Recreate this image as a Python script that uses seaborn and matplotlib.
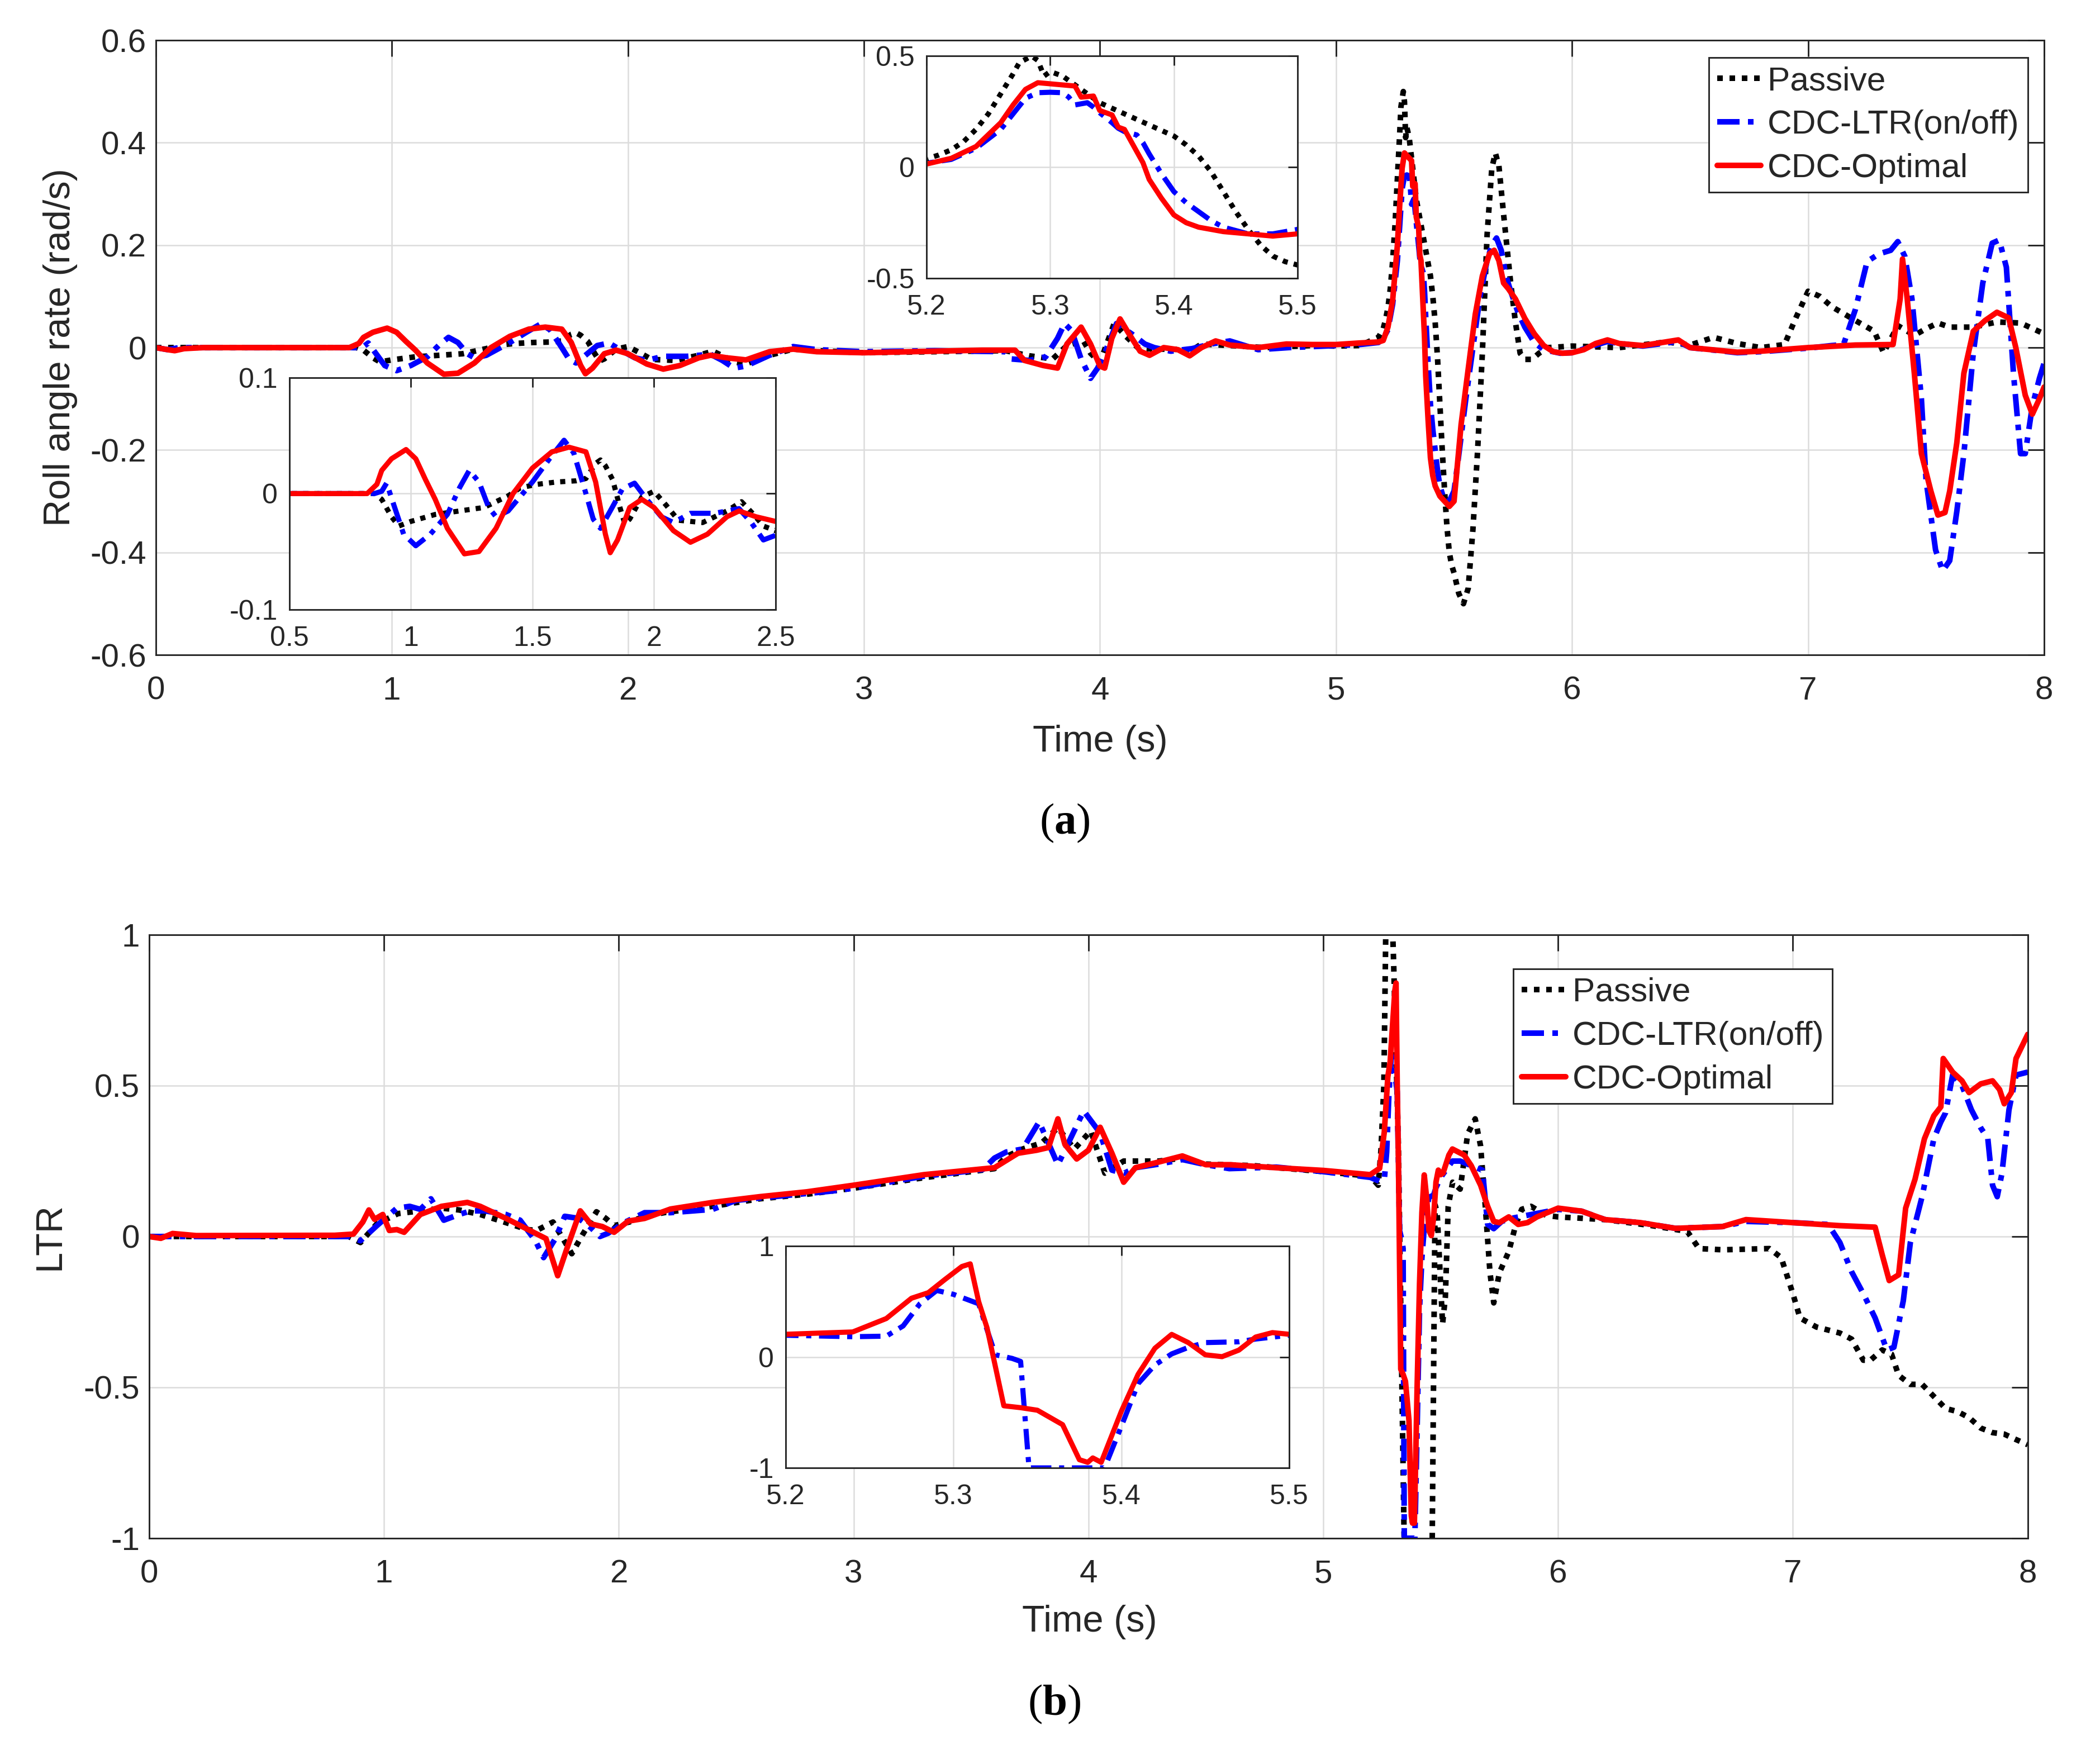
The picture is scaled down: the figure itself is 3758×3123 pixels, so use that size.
import numpy as np
import pandas as pd
import seaborn as sns
import matplotlib
matplotlib.use("Agg")
import matplotlib.pyplot as plt
from matplotlib.ticker import FuncFormatter

# Roll angle rate (rad/s), columns: time (s), value
roll_passive = np.array([
    [0, 0], [0.5, 0], [0.85, 0], [0.88, -0.005], [0.92, -0.02], [0.95, -0.028],
    [1.0, -0.024], [1.1, -0.018], [1.2, -0.015], [1.3, -0.012], [1.4, -0.002],
    [1.45, 0.005], [1.52, 0.008], [1.6, 0.01], [1.68, 0.011], [1.72, 0.013],
    [1.76, 0.026], [1.78, 0.029], [1.8, 0.024], [1.83, 0.012], [1.86, -0.012],
    [1.88, -0.026], [1.9, -0.022], [1.95, -0.003], [2.0, 0.002], [2.05, -0.01],
    [2.1, -0.023], [2.2, -0.025], [2.3, -0.015], [2.36, -0.007], [2.41, -0.018],
    [2.45, -0.028], [2.5, -0.032], [2.6, -0.015], [2.7, -0.003], [2.8, -0.006],
    [3.0, -0.01], [3.3, -0.008], [3.6, -0.006], [3.7, -0.016], [3.8, -0.022],
    [3.86, 0.004], [3.93, 0.013], [3.96, -0.011], [4.0, -0.029], [4.06, 0.047],
    [4.11, 0.022], [4.16, 0.0], [4.22, -0.003], [4.3, -0.003], [4.39, -0.005],
    [4.43, 0.007], [4.55, 0.004], [4.7, 0.0], [4.9, 0.004], [5.0, 0.003],
    [5.1, 0.004], [5.18, 0.02],
    [5.2, 0.037], [5.21, 0.055], [5.22, 0.078], [5.23, 0.115], [5.24, 0.17],
    [5.25, 0.24], [5.26, 0.33], [5.27, 0.42], [5.275, 0.47], [5.285, 0.5],
    [5.29, 0.48], [5.295, 0.41], [5.3, 0.43], [5.31, 0.41], [5.32, 0.37],
    [5.33, 0.33], [5.34, 0.29], [5.36, 0.24], [5.38, 0.19], [5.4, 0.14],
    [5.41, 0.1], [5.42, 0.05], [5.43, -0.02], [5.44, -0.11], [5.45, -0.2],
    [5.46, -0.28], [5.47, -0.35], [5.48, -0.4], [5.49, -0.425], [5.5, -0.44],
    [5.52, -0.48], [5.54, -0.5], [5.56, -0.47], [5.58, -0.355], [5.6, -0.2],
    [5.62, -0.01], [5.64, 0.22], [5.66, 0.35], [5.675, 0.38], [5.69, 0.355],
    [5.71, 0.26], [5.73, 0.17], [5.74, 0.126], [5.76, 0.05], [5.78, -0.011],
    [5.8, -0.023], [5.83, -0.023], [5.86, -0.011], [5.9, 0.0], [6.0, 0.003],
    [6.2, 0.0], [6.4, 0.011], [6.5, 0.005], [6.6, 0.02], [6.7, 0.008],
    [6.8, 0.0], [6.9, 0.006], [6.95, 0.06], [7.0, 0.11], [7.05, 0.1],
    [7.1, 0.08], [7.2, 0.053], [7.28, 0.032], [7.32, -0.01], [7.38, 0.043],
    [7.45, 0.024], [7.5, 0.037], [7.55, 0.048], [7.6, 0.04], [7.7, 0.04],
    [7.8, 0.05], [7.9, 0.048], [8.0, 0.027],
])

roll_ltr = np.array([
    [0, 0], [0.05, -0.004], [0.1, 0.0], [0.85, 0], [0.88, 0.002], [0.9, 0.009],
    [0.93, -0.01], [0.97, -0.035], [1.02, -0.045], [1.08, -0.035], [1.15, -0.018],
    [1.2, 0.005], [1.24, 0.02], [1.28, 0.01], [1.32, -0.012], [1.35, -0.02],
    [1.4, -0.015], [1.5, 0.01], [1.57, 0.03], [1.63, 0.046], [1.67, 0.035],
    [1.72, 0.0], [1.75, -0.022], [1.78, -0.03], [1.82, -0.015], [1.87, 0.004],
    [1.92, 0.009], [1.97, -0.005], [2.03, -0.02], [2.08, -0.025], [2.15, -0.017],
    [2.25, -0.017], [2.35, -0.013], [2.4, -0.025], [2.45, -0.04], [2.5, -0.036],
    [2.6, -0.015], [2.7, 0.002], [2.8, -0.004], [3.0, -0.008], [3.3, -0.006],
    [3.6, -0.008], [3.62, -0.022], [3.7, -0.025], [3.77, -0.018], [3.82, 0.018],
    [3.85, 0.047], [3.88, 0.033], [3.92, -0.022], [3.96, -0.06], [3.99, -0.04],
    [4.02, -0.011], [4.07, 0.047], [4.14, 0.025], [4.19, 0.007], [4.23, 0.0],
    [4.3, -0.007], [4.39, -0.002], [4.47, 0.007], [4.55, 0.013], [4.67, -0.004],
    [4.8, 0.0], [5.0, 0.004], [5.1, 0.006], [5.18, 0.01],
    [5.2, 0.018], [5.22, 0.035], [5.24, 0.085], [5.26, 0.17], [5.27, 0.24],
    [5.28, 0.31], [5.29, 0.335], [5.3, 0.337], [5.31, 0.335], [5.315, 0.315],
    [5.32, 0.28], [5.325, 0.285], [5.33, 0.29], [5.335, 0.27], [5.34, 0.245],
    [5.35, 0.2], [5.355, 0.175], [5.36, 0.16], [5.37, 0.145], [5.375, 0.11],
    [5.38, 0.06], [5.39, -0.03], [5.4, -0.11], [5.41, -0.16], [5.42, -0.2],
    [5.43, -0.24], [5.44, -0.27], [5.46, -0.3], [5.48, -0.3], [5.5, -0.28],
    [5.52, -0.21], [5.55, -0.1], [5.58, 0.0], [5.61, 0.1], [5.64, 0.17],
    [5.66, 0.2], [5.68, 0.214], [5.7, 0.19], [5.72, 0.14], [5.74, 0.11],
    [5.77, 0.07], [5.8, 0.04], [5.84, 0.01], [5.88, -0.004], [5.95, -0.011],
    [6.0, -0.01], [6.1, 0.005], [6.15, 0.012], [6.2, 0.008], [6.3, 0.003],
    [6.45, 0.012], [6.5, 0.0], [6.7, -0.01], [6.8, -0.008], [7.0, -0.001],
    [7.1, 0.004], [7.15, 0.006], [7.2, 0.074], [7.25, 0.168], [7.3, 0.183],
    [7.35, 0.19], [7.38, 0.207], [7.41, 0.178], [7.44, 0.095], [7.48, -0.1],
    [7.5, -0.26], [7.54, -0.395], [7.57, -0.436], [7.6, -0.416], [7.63, -0.32],
    [7.66, -0.207], [7.7, -0.01], [7.74, 0.126], [7.78, 0.204], [7.81, 0.21],
    [7.84, 0.157], [7.87, -0.05], [7.9, -0.207], [7.92, -0.207], [7.95, -0.114],
    [7.98, -0.06], [8.0, -0.03],
])

roll_opt = np.array([
    [0, 0], [0.05, -0.004], [0.08, -0.006], [0.12, -0.002], [0.2, 0.0],
    [0.82, 0.0], [0.86, 0.008], [0.88, 0.02], [0.92, 0.03], [0.98, 0.038],
    [1.02, 0.03], [1.06, 0.012], [1.1, -0.005], [1.15, -0.03], [1.22, -0.052],
    [1.28, -0.05], [1.35, -0.03], [1.42, 0.0], [1.5, 0.022], [1.58, 0.036],
    [1.65, 0.04], [1.72, 0.036], [1.76, 0.01], [1.8, -0.035], [1.82, -0.051],
    [1.85, -0.04], [1.9, -0.012], [1.95, -0.005], [2.0, -0.012], [2.08, -0.032],
    [2.15, -0.042], [2.22, -0.035], [2.3, -0.02], [2.35, -0.015], [2.42, -0.02],
    [2.5, -0.024], [2.6, -0.008], [2.7, -0.003], [2.8, -0.008], [3.0, -0.01],
    [3.5, -0.005], [3.64, -0.005], [3.68, -0.025], [3.76, -0.035], [3.82, -0.04],
    [3.86, 0.007], [3.92, 0.04], [3.96, 0.007], [4.0, -0.036], [4.02, -0.04],
    [4.05, 0.018], [4.085, 0.056], [4.12, 0.029], [4.17, -0.007], [4.21, -0.015],
    [4.27, 0.0], [4.33, -0.004], [4.38, -0.016], [4.43, 0.0], [4.49, 0.013],
    [4.55, 0.005], [4.67, 0.0], [4.79, 0.007], [4.9, 0.006], [5.0, 0.006],
    [5.1, 0.009], [5.18, 0.011],
    [5.2, 0.014], [5.22, 0.04], [5.24, 0.093], [5.26, 0.2], [5.27, 0.28],
    [5.28, 0.35], [5.29, 0.38], [5.3, 0.375], [5.31, 0.37], [5.32, 0.365],
    [5.325, 0.315], [5.335, 0.32], [5.34, 0.255], [5.35, 0.235], [5.355, 0.18],
    [5.36, 0.17], [5.365, 0.12], [5.37, 0.07], [5.375, 0.02], [5.38, -0.055],
    [5.39, -0.14], [5.4, -0.215], [5.41, -0.25], [5.42, -0.27], [5.44, -0.29],
    [5.46, -0.3], [5.48, -0.31], [5.5, -0.3],
    [5.52, -0.2], [5.53, -0.15], [5.56, -0.042], [5.59, 0.065], [5.62, 0.14],
    [5.65, 0.183], [5.67, 0.19], [5.69, 0.17], [5.71, 0.126], [5.73, 0.115],
    [5.76, 0.095], [5.8, 0.057], [5.84, 0.027], [5.88, 0.004], [5.92, -0.008],
    [5.96, -0.011], [6.0, -0.01], [6.05, -0.004], [6.1, 0.008], [6.15, 0.015],
    [6.2, 0.008], [6.3, 0.004], [6.45, 0.015], [6.5, 0.0], [6.7, -0.009],
    [6.8, -0.007], [7.0, 0.0], [7.2, 0.005], [7.36, 0.006], [7.39, 0.095],
    [7.4, 0.173], [7.42, 0.095], [7.45, -0.05], [7.48, -0.207], [7.52, -0.28],
    [7.55, -0.327], [7.58, -0.322], [7.6, -0.28], [7.63, -0.186], [7.66, -0.05],
    [7.7, 0.032], [7.75, 0.053], [7.8, 0.069], [7.85, 0.058], [7.88, 0.0],
    [7.92, -0.093], [7.95, -0.13], [7.98, -0.1], [8.0, -0.077],
])

# Load transfer ratio, columns: time (s), value
ltr_passive = np.array([
    [0, 0], [0.85, 0.0], [0.9, -0.02], [0.97, 0.042], [1.06, 0.076],
    [1.155, 0.085], [1.245, 0.094], [1.32, 0.088], [1.41, 0.073], [1.5, 0.051],
    [1.61, 0.023], [1.65, 0.02], [1.72, 0.048], [1.76, -0.004], [1.8, -0.057],
    [1.845, 0.005], [1.905, 0.082], [1.945, 0.06], [1.98, 0.036], [2.045, 0.048],
    [2.11, 0.067], [2.2, 0.08], [2.4, 0.1], [2.6, 0.125], [2.8, 0.14],
    [3.0, 0.16], [3.3, 0.195], [3.6, 0.225], [3.65, 0.265], [3.72, 0.29],
    [3.8, 0.31], [3.87, 0.36], [3.94, 0.29], [4.01, 0.35], [4.07, 0.21],
    [4.15, 0.25], [4.3, 0.25], [4.4, 0.26], [4.5, 0.24], [4.7, 0.235],
    [5.0, 0.215], [5.2, 0.2], [5.234, 0.17], [5.246, 0.29], [5.258, 0.5],
    [5.266, 1.0], [5.28, 1.4], [5.3, 0.9], [5.32, 0.3], [5.335, -0.5],
    [5.35, -1.3], [5.44, -1.3], [5.464, -1.0], [5.476, 0.105], [5.485, 0.08],
    [5.508, -0.29], [5.52, -0.2], [5.532, 0.1], [5.551, 0.18], [5.583, 0.157],
    [5.615, 0.34], [5.647, 0.39], [5.67, 0.3], [5.69, 0.1], [5.71, -0.12],
    [5.726, -0.22], [5.75, -0.12], [5.79, -0.05], [5.82, 0.04], [5.845, 0.09],
    [5.885, 0.1], [5.95, 0.07], [6.0, 0.065], [6.2, 0.056], [6.4, 0.036],
    [6.55, 0.017], [6.6, -0.04], [6.7, -0.044], [6.9, -0.04], [6.95, -0.07],
    [7.0, -0.19], [7.03, -0.27], [7.1, -0.3], [7.2, -0.32], [7.25, -0.34],
    [7.3, -0.41], [7.33, -0.41], [7.38, -0.376], [7.42, -0.39], [7.45, -0.46],
    [7.5, -0.49], [7.55, -0.49], [7.6, -0.53], [7.65, -0.57], [7.7, -0.58],
    [7.75, -0.6], [7.8, -0.635], [7.85, -0.65], [7.9, -0.655], [7.95, -0.673],
    [8.0, -0.69],
])

ltr_ltr = np.array([
    [0, 0], [0.85, 0], [0.9, -0.014], [0.97, 0.036], [1.055, 0.094], [1.11, 0.1],
    [1.155, 0.09], [1.2, 0.125], [1.255, 0.054], [1.32, 0.073], [1.37, 0.085],
    [1.43, 0.085], [1.52, 0.073], [1.58, 0.054], [1.645, -0.014], [1.68, -0.07],
    [1.73, -0.007], [1.77, 0.067], [1.83, 0.06], [1.88, 0.03], [1.92, 0.0],
    [1.955, 0.011], [2.02, 0.045], [2.11, 0.079], [2.22, 0.079], [2.4, 0.09],
    [2.5, 0.12], [2.7, 0.135], [2.9, 0.15], [3.0, 0.16], [3.3, 0.2],
    [3.55, 0.222], [3.6, 0.26], [3.65, 0.28], [3.72, 0.29], [3.79, 0.38],
    [3.87, 0.238], [3.98, 0.416], [4.05, 0.343], [4.1, 0.22], [4.15, 0.209],
    [4.2, 0.228], [4.3, 0.24], [4.4, 0.255], [4.5, 0.238], [4.6, 0.225],
    [4.8, 0.23], [5.0, 0.215],
    [5.2, 0.196], [5.24, 0.183], [5.26, 0.188], [5.27, 0.28], [5.28, 0.48],
    [5.29, 0.6], [5.3, 0.565], [5.315, 0.48], [5.32, 0.246], [5.325, 0.02],
    [5.335, -0.013], [5.34, -0.04], [5.345, -1.0], [5.39, -1.0], [5.4, -0.625],
    [5.41, -0.24], [5.42, -0.072], [5.43, 0.028], [5.44, 0.087], [5.45, 0.13],
    [5.47, 0.137], [5.48, 0.162], [5.5, 0.196],
    [5.55, 0.25], [5.583, 0.25], [5.63, 0.235], [5.678, 0.22], [5.7, 0.04],
    [5.726, 0.026], [5.76, 0.05], [5.8, 0.06], [5.9, 0.075], [6.0, 0.09],
    [6.1, 0.084], [6.2, 0.056], [6.35, 0.046], [6.5, 0.027], [6.7, 0.033],
    [6.8, 0.05], [7.0, 0.046], [7.15, 0.04], [7.2, -0.02], [7.25, -0.117],
    [7.3, -0.19], [7.35, -0.27], [7.4, -0.376], [7.43, -0.367], [7.47, -0.213],
    [7.5, -0.02], [7.55, 0.132], [7.6, 0.324], [7.63, 0.38], [7.65, 0.41],
    [7.68, 0.535], [7.72, 0.5], [7.76, 0.42], [7.8, 0.36], [7.83, 0.324],
    [7.85, 0.17], [7.87, 0.132], [7.89, 0.209], [7.92, 0.42], [7.95, 0.535],
    [8.0, 0.545],
])

ltr_opt = np.array([
    [0, 0], [0.05, -0.006], [0.1, 0.01], [0.2, 0.003], [0.79, 0.004],
    [0.87, 0.008], [0.91, 0.048], [0.936, 0.088], [0.96, 0.057], [0.995, 0.073],
    [1.023, 0.02], [1.055, 0.023], [1.086, 0.014], [1.155, 0.073], [1.245, 0.1],
    [1.355, 0.113], [1.41, 0.1], [1.52, 0.06], [1.69, -0.007], [1.74, -0.13],
    [1.78, -0.038], [1.836, 0.085], [1.88, 0.042], [1.93, 0.033], [1.98, 0.014],
    [2.04, 0.051], [2.11, 0.06], [2.22, 0.091], [2.4, 0.113], [2.6, 0.132],
    [2.8, 0.148], [3.0, 0.17], [3.3, 0.205], [3.6, 0.228], [3.7, 0.276],
    [3.78, 0.286], [3.83, 0.295], [3.87, 0.39], [3.9, 0.305], [3.95, 0.257],
    [4.0, 0.286], [4.05, 0.362], [4.1, 0.276], [4.15, 0.18], [4.2, 0.228],
    [4.3, 0.247], [4.4, 0.267], [4.5, 0.238], [4.6, 0.238], [4.8, 0.228],
    [5.0, 0.219],
    [5.2, 0.205], [5.24, 0.226], [5.26, 0.347], [5.275, 0.53], [5.285, 0.58],
    [5.295, 0.7], [5.305, 0.816], [5.31, 0.84], [5.315, 0.5], [5.32, 0.263],
    [5.33, -0.44], [5.34, -0.457], [5.35, -0.48], [5.365, -0.61], [5.375, -0.926],
    [5.38, -0.95], [5.383, -0.91], [5.388, -0.95], [5.4, -0.49], [5.41, -0.156],
    [5.42, 0.079], [5.43, 0.204], [5.44, 0.129], [5.45, 0.02], [5.46, 0.003],
    [5.47, 0.062], [5.48, 0.18], [5.49, 0.22], [5.5, 0.205],
    [5.51, 0.21], [5.535, 0.27], [5.55, 0.29], [5.6, 0.27], [5.63, 0.235],
    [5.67, 0.17], [5.7, 0.1], [5.726, 0.05], [5.75, 0.046], [5.79, 0.065],
    [5.83, 0.04], [5.87, 0.046], [5.91, 0.065], [6.0, 0.094], [6.1, 0.084],
    [6.2, 0.056], [6.35, 0.046], [6.5, 0.027], [6.7, 0.033], [6.8, 0.056],
    [7.0, 0.046], [7.2, 0.036], [7.35, 0.031], [7.38, -0.06], [7.41, -0.146],
    [7.45, -0.127], [7.48, 0.094], [7.52, 0.19], [7.56, 0.324], [7.6, 0.4],
    [7.63, 0.43], [7.64, 0.59], [7.68, 0.545], [7.72, 0.516], [7.75, 0.477],
    [7.8, 0.506], [7.85, 0.516], [7.88, 0.487], [7.9, 0.44], [7.93, 0.477],
    [7.95, 0.59], [8.0, 0.67],
])

series_names = ["Passive", "CDC-LTR(on/off)", "CDC-Optimal"]
series_colors = ["#000000", "#0000ff", "#ff0000"]
series_styles = [(0, (1, 1.2)), (0, (4, 1.5, 1, 1.5)), "-"]

time_ticks = [0, 1, 2, 3, 4, 5, 6, 7, 8]
roll_ticks = [-0.6, -0.4, -0.2, 0, 0.2, 0.4, 0.6]
ltr_ticks = [-1, -0.5, 0, 0.5, 1]

sns.set_theme(style="white")
plt.rcParams["font.family"] = ["Liberation Sans", "DejaVu Sans"]
plt.rcParams["axes.unicode_minus"] = False
plt.rcParams["mathtext.fontset"] = "custom"
plt.rcParams["mathtext.rm"] = "Liberation Serif"
plt.rcParams["mathtext.bf"] = "Liberation Serif:bold"

INK = "#262626"
TICK_FS = 14
LABEL_FS = 16
INSET_FS = 12
LEGEND_FS = 14.5


def draw(ax, arrays, lw, with_labels=False):
    for arr, name, col, ls in zip(arrays, series_names, series_colors, series_styles):
        if arr is None:
            continue
        df = pd.DataFrame(arr, columns=["t", "v"])
        kw = dict(label=name) if with_labels else {}
        sns.lineplot(data=df, x="t", y="v", ax=ax, color=col, linestyle=ls,
                     linewidth=lw, estimator=None, sort=False, legend=False, **kw)
    ax.set_xlabel("")
    ax.set_ylabel("")


def style(ax, xlim, ylim, xticks, yticks, fs, tick_len, xpad, ypad):
    ax.set_xlim(*xlim)
    ax.set_ylim(*ylim)
    ax.set_xticks(xticks)
    ax.set_yticks(yticks)
    fmt = FuncFormatter(lambda v, p: f"{v:g}")
    ax.xaxis.set_major_formatter(fmt)
    ax.yaxis.set_major_formatter(fmt)
    ax.grid(True, color="#dcdcdc", linewidth=0.6)
    ax.set_axisbelow(True)
    for s in ax.spines.values():
        s.set_visible(True)
        s.set_color(INK)
        s.set_linewidth(0.7)
    ax.tick_params(direction="in", top=True, right=True, length=tick_len, width=0.7,
                   color=INK, labelcolor=INK, labelsize=fs)
    ax.tick_params(axis="x", pad=xpad)
    ax.tick_params(axis="y", pad=ypad)


def add_legend(ax, loc, anchor):
    leg = ax.legend(loc=loc, bbox_to_anchor=anchor, bbox_transform=fig.transFigure,
                    fontsize=LEGEND_FS, frameon=True, fancybox=False, edgecolor=INK,
                    framealpha=1, borderpad=0.25, labelspacing=0.38,
                    handlelength=1.3, handletextpad=0.2, borderaxespad=0)
    leg.get_frame().set_linewidth(0.7)
    return leg


fig = plt.figure(figsize=(3758 / 300, 3123 / 300), dpi=300)
fig.patch.set_facecolor("white")

# (a) roll angle rate
ax1 = fig.add_axes([0.0742, 0.6247, 0.8992, 0.3522])
draw(ax1, [roll_passive, roll_ltr, roll_opt], 2.4, with_labels=True)
style(ax1, (0, 8), (-0.6, 0.6), time_ticks, roll_ticks, TICK_FS, 7, 9, 4)
ax1.set_ylabel("Roll angle rate (rad/s)", fontsize=LABEL_FS, color=INK)
ax1.yaxis.set_label_coords(-0.0414, 0.5)
ax1.set_xlabel("Time (s)", fontsize=LABEL_FS, color=INK)
ax1.xaxis.set_label_coords(0.5, -0.1136)
add_legend(ax1, "upper right", (0.9657, 0.967))

ins1 = fig.add_axes([0.1378, 0.6507, 0.2315, 0.1329])
ins1.set_facecolor("white")
draw(ins1, [roll_passive, roll_ltr, roll_opt], 2.2)
style(ins1, (0.5, 2.5), (-0.1, 0.1), [0.5, 1, 1.5, 2, 2.5], [-0.1, 0, 0.1],
      INSET_FS, 4, 7, 5)

ins2 = fig.add_axes([0.4412, 0.8405, 0.1767, 0.1274])
ins2.set_facecolor("white")
draw(ins2, [roll_passive, roll_ltr, roll_opt], 2.2)
style(ins2, (5.2, 5.5), (-0.5, 0.5), [5.2, 5.3, 5.4, 5.5], [-0.5, 0, 0.5],
      INSET_FS, 4, 7, 5)

# (b) LTR
ax2 = fig.add_axes([0.0710, 0.1185, 0.8946, 0.3458])
draw(ax2, [ltr_passive, ltr_ltr, ltr_opt], 2.4, with_labels=True)
style(ax2, (0, 8), (-1, 1), time_ticks, ltr_ticks, TICK_FS, 7, 9, 4)
ax2.set_ylabel("LTR", fontsize=LABEL_FS, color=INK)
ax2.yaxis.set_label_coords(-0.0434, 0.5)
ax2.set_xlabel("Time (s)", fontsize=LABEL_FS, color=INK)
ax2.xaxis.set_label_coords(0.5006, -0.110)
add_legend(ax2, "upper left", (0.7206, 0.4448))

ins3 = fig.add_axes([0.3741, 0.1588, 0.2398, 0.1271])
ins3.set_facecolor("white")
draw(ins3, [None, ltr_ltr, ltr_opt], 2.2)
style(ins3, (5.2, 5.5), (-1, 1), [5.2, 5.3, 5.4, 5.5], [-1, 0, 1],
      INSET_FS, 4, 7, 5)

fig.text(0.507, 0.5283, r"($\mathbf{a}$)", ha="center", va="center",
         fontsize=19, family="Liberation Serif", color="black")
fig.text(0.502, 0.0234, r"($\mathbf{b}$)", ha="center", va="center",
         fontsize=19, family="Liberation Serif", color="black")

fig.savefig("out.png", dpi=300, facecolor="white")
